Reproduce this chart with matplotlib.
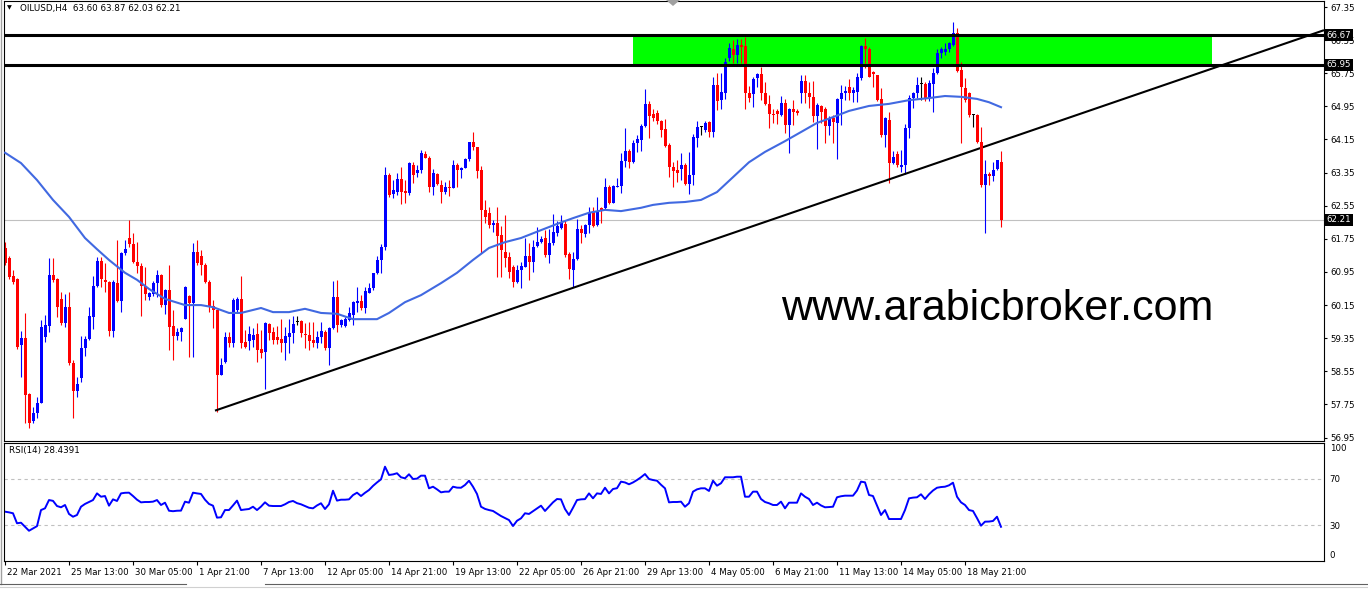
import matplotlib
matplotlib.use("Agg")
import matplotlib.pyplot as plt
import matplotlib.transforms as mtransforms
from matplotlib.patches import Rectangle, Polygon
from matplotlib.lines import Line2D
import numpy as np

# ---- OILUSD H4 candles (open, high, low, close) ----
opens = [61.53, 61.29, 60.85, 60.78, 59.19, 59.36, 58.00, 57.35, 57.55, 57.79,
         59.38, 59.65, 60.88, 60.78, 60.30, 59.72, 60.10, 58.75, 58.07, 58.39,
         59.11, 59.33, 59.86, 60.61, 61.22, 60.76, 60.71, 59.53, 60.68, 60.25,
         61.41, 61.77, 61.62, 61.19, 61.09, 60.61, 60.34, 60.42, 60.68, 60.88,
         60.15, 60.51, 59.65, 59.40, 59.50, 59.81, 60.37, 60.20, 61.43, 61.34,
         61.12, 60.71, 60.13, 60.03, 58.46, 58.77, 59.38, 59.24, 60.03, 60.30,
         59.26, 59.28, 59.31, 59.45, 59.09, 59.02, 59.69, 59.50, 59.38, 59.33,
         59.24, 59.38, 59.48, 59.74, 59.77, 59.45, 59.43, 59.31, 59.24, 59.38,
         59.50, 59.11, 59.60, 60.34, 59.67, 59.65, 59.79, 59.91, 60.20, 60.25,
         60.08, 60.44, 60.56, 60.93, 61.24, 61.55, 63.29, 62.84, 62.88, 63.19,
         62.91, 62.86, 63.53, 63.34, 63.41, 63.80, 63.70, 63.00, 63.31, 63.05,
         62.88, 63.00, 62.98, 63.53, 63.41, 63.46, 63.68, 64.09, 63.97, 63.41,
         62.45, 62.38, 62.09, 62.14, 61.84, 61.43, 61.31, 61.07, 60.71, 61.00,
         61.07, 61.34, 61.19, 61.58, 61.67, 61.77, 61.36, 61.65, 61.89, 62.01,
         62.11, 61.38, 61.00, 61.26, 61.99, 61.87, 62.09, 62.40, 62.09, 62.50,
         62.50, 63.00, 62.62, 63.00, 63.02, 63.63, 63.87, 63.60, 64.06, 64.14,
         64.48, 65.00, 64.77, 64.79, 64.60, 64.40, 64.02, 63.48, 63.41, 63.44,
         63.53, 63.07, 63.29, 64.19, 64.45, 64.38, 64.57, 64.33, 65.47, 65.10,
         65.28, 66.12, 66.34, 66.19, 66.43, 66.41, 65.27, 65.25, 65.64, 65.73,
         65.27, 65.00, 64.77, 64.84, 64.74, 65.03, 64.50, 64.89, 64.84, 65.27,
         65.56, 65.27, 65.18, 64.72, 64.96, 64.89, 64.48, 64.67, 64.55, 65.13,
         65.27, 65.42, 65.27, 65.30, 65.64, 66.41, 66.34, 65.78, 65.71, 65.13,
         64.26, 64.62, 63.58, 63.80, 63.48, 63.53, 64.43, 65.15, 65.27, 65.49,
         65.49, 65.15, 65.49, 65.76, 66.24, 66.26, 66.34, 66.43, 66.72, 65.83,
         65.40, 65.27, 64.74, 64.74, 64.09, 63.05, 63.31, 63.27, 63.44, 63.60]

highs = [61.67, 61.34, 61.00, 60.80, 59.53, 59.96, 58.03, 57.69, 57.93, 59.79,
         59.91, 61.29, 61.29, 60.80, 60.46, 60.41, 60.46, 58.82, 58.41, 59.40,
         59.40, 60.10, 60.85, 61.31, 61.31, 61.17, 60.73, 60.76, 61.72, 61.43,
         61.72, 62.21, 61.89, 61.67, 61.17, 61.07, 60.46, 60.73, 61.00, 60.90,
         60.54, 61.12, 60.03, 59.60, 59.62, 60.61, 60.39, 61.65, 61.72, 61.48,
         61.17, 60.76, 60.27, 60.03, 58.87, 59.50, 59.50, 60.32, 60.34, 60.85,
         59.55, 59.65, 59.60, 59.72, 59.55, 59.74, 59.72, 59.62, 59.65, 59.81,
         59.62, 59.81, 59.89, 59.89, 59.79, 59.72, 59.74, 59.74, 59.53, 59.74,
         59.55, 59.62, 60.73, 60.76, 59.81, 59.86, 60.10, 60.25, 60.59, 60.39,
         60.59, 60.68, 60.93, 61.34, 61.62, 63.48, 63.34, 63.17, 63.34, 63.48,
         63.17, 63.60, 63.60, 63.53, 63.90, 63.87, 63.75, 63.44, 63.34, 63.17,
         63.12, 63.17, 63.65, 63.58, 63.48, 63.70, 64.09, 64.33, 63.97, 63.51,
         62.69, 62.52, 62.21, 62.52, 62.06, 62.33, 61.43, 61.12, 61.12, 61.19,
         61.77, 61.65, 61.72, 62.04, 61.82, 61.96, 61.99, 62.35, 62.18, 62.33,
         62.21, 61.43, 61.43, 62.23, 62.09, 62.11, 62.52, 62.52, 62.76, 62.52,
         63.22, 63.05, 63.05, 63.22, 63.82, 64.43, 63.92, 64.14, 64.26, 64.53,
         65.37, 65.08, 64.89, 64.86, 64.62, 64.64, 64.06, 63.60, 63.65, 63.82,
         63.58, 63.85, 64.28, 64.60, 64.48, 64.60, 64.60, 65.66, 65.76, 65.76,
         66.12, 66.48, 66.55, 66.58, 66.58, 66.63, 65.44, 65.66, 65.76, 65.90,
         65.54, 65.22, 64.89, 64.89, 65.20, 65.13, 64.91, 65.10, 64.89, 65.71,
         65.71, 65.54, 65.56, 65.03, 64.98, 64.93, 64.72, 64.74, 65.15, 65.47,
         65.44, 65.61, 65.42, 65.76, 66.43, 66.60, 66.38, 65.81, 65.71, 65.40,
         64.69, 64.81, 63.87, 63.87, 63.90, 64.53, 65.22, 65.30, 65.66, 65.66,
         65.54, 65.59, 65.88, 66.34, 66.38, 66.48, 66.50, 66.99, 66.84, 66.02,
         65.64, 65.30, 64.77, 64.77, 64.45, 63.65, 63.36, 63.60, 63.65, 63.87]

lows = [61.12, 60.78, 60.66, 59.09, 58.41, 57.30, 57.18, 57.30, 57.42, 57.79,
        59.26, 59.50, 60.71, 59.86, 59.67, 59.62, 58.70, 57.42, 57.93, 58.29,
        58.92, 59.31, 59.57, 60.59, 60.59, 60.46, 59.40, 59.38, 60.22, 59.98,
        61.36, 61.55, 61.17, 60.93, 59.89, 60.27, 60.27, 60.37, 60.34, 60.10,
        59.93, 59.06, 58.82, 59.31, 59.28, 59.81, 58.89, 58.89, 61.12, 60.88,
        60.68, 59.98, 59.60, 57.57, 58.46, 58.75, 59.14, 59.14, 59.96, 59.11,
        59.11, 59.06, 59.14, 58.77, 58.87, 58.12, 59.31, 59.21, 59.21, 59.02,
        58.82, 58.99, 59.24, 59.67, 59.38, 59.11, 59.06, 59.14, 59.11, 59.24,
        59.06, 58.70, 59.57, 59.50, 59.62, 59.62, 59.77, 59.67, 59.98, 60.03,
        59.96, 60.44, 60.51, 60.90, 60.93, 61.48, 62.76, 62.74, 62.81, 62.59,
        62.62, 62.81, 63.10, 63.24, 63.34, 63.70, 62.88, 62.81, 63.05, 62.62,
        62.83, 62.79, 62.98, 63.00, 63.22, 63.46, 63.63, 63.90, 63.22, 61.41,
        62.14, 62.01, 61.92, 60.83, 60.83, 61.07, 60.80, 60.59, 60.68, 60.56,
        61.07, 60.76, 60.95, 61.55, 61.65, 61.31, 61.17, 61.60, 61.82, 61.99,
        61.31, 60.78, 60.59, 61.24, 61.65, 61.79, 61.89, 62.04, 62.06, 62.14,
        62.47, 62.59, 62.62, 63.00, 62.86, 63.48, 63.46, 63.58, 63.85, 63.87,
        64.45, 64.19, 64.60, 64.52, 64.21, 63.97, 63.24, 63.00, 63.12, 63.17,
        63.05, 62.83, 63.05, 63.97, 64.26, 64.33, 64.21, 64.21, 64.86, 64.89,
        65.13, 66.05, 66.00, 66.00, 66.00, 64.89, 65.05, 64.93, 65.42, 65.10,
        64.98, 64.43, 64.55, 64.52, 64.72, 64.31, 63.82, 64.50, 64.74, 65.03,
        65.03, 64.91, 64.57, 63.92, 64.55, 64.07, 64.26, 64.07, 63.68, 64.50,
        65.10, 65.10, 65.05, 65.05, 65.59, 65.88, 65.66, 65.42, 65.08, 64.21,
        63.97, 63.10, 63.56, 63.48, 63.36, 63.31, 64.19, 64.91, 65.15, 65.10,
        65.08, 65.08, 64.81, 65.73, 66.12, 66.19, 66.26, 66.41, 65.78, 64.07,
        65.05, 64.69, 64.45, 64.06, 63.00, 61.89, 63.05, 63.15, 63.42, 62.03]

closes = [61.17, 60.83, 60.71, 59.14, 59.36, 57.98, 57.30, 57.55, 57.79, 59.62,
          59.67, 60.88, 60.76, 60.10, 59.72, 60.10, 58.75, 58.07, 58.24, 59.11,
          59.33, 59.89, 60.61, 61.22, 60.78, 60.71, 59.53, 60.71, 60.25, 61.41,
          61.51, 61.62, 61.19, 61.09, 60.61, 60.42, 60.44, 60.68, 60.88, 60.15,
          60.51, 59.62, 59.40, 59.50, 59.60, 60.59, 60.20, 61.43, 61.17, 61.12,
          60.71, 60.10, 60.03, 58.46, 58.70, 59.38, 59.24, 60.27, 60.30, 59.24,
          59.14, 59.45, 59.43, 59.06, 58.99, 59.72, 59.48, 59.31, 59.31, 59.24,
          59.40, 59.48, 59.69, 59.74, 59.48, 59.43, 59.28, 59.24, 59.38, 59.53,
          59.11, 59.60, 60.34, 59.67, 59.79, 59.81, 59.96, 60.22, 60.25, 60.08,
          60.49, 60.56, 60.93, 61.24, 61.55, 63.29, 62.81, 62.93, 63.19, 62.88,
          62.86, 63.58, 63.29, 63.41, 63.82, 63.70, 63.00, 63.34, 63.07, 62.88,
          63.00, 62.98, 63.53, 63.41, 63.46, 63.68, 64.09, 63.97, 63.39, 62.45,
          62.28, 62.09, 62.14, 61.82, 61.48, 61.29, 60.95, 60.71, 61.00, 61.09,
          61.34, 61.19, 61.55, 61.67, 61.75, 61.36, 61.65, 61.91, 62.06, 62.14,
          61.36, 61.02, 61.26, 61.99, 61.89, 62.09, 62.40, 62.06, 62.43, 62.45,
          63.00, 62.62, 63.02, 63.02, 63.63, 63.87, 63.60, 64.06, 64.16, 64.48,
          65.00, 64.72, 64.67, 64.60, 64.38, 63.99, 63.48, 63.39, 63.34, 63.53,
          63.07, 63.29, 64.21, 64.45, 64.45, 64.55, 64.33, 65.47, 65.08, 65.30,
          66.02, 66.36, 66.19, 66.43, 66.38, 65.27, 65.15, 65.61, 65.73, 65.27,
          65.00, 64.77, 64.74, 64.77, 65.03, 64.50, 64.89, 64.81, 64.79, 65.56,
          65.27, 65.18, 64.72, 64.98, 64.81, 64.48, 64.67, 64.57, 65.13, 65.27,
          65.32, 65.27, 65.35, 65.66, 66.41, 66.34, 65.66, 65.73, 65.10, 64.26,
          64.67, 63.58, 63.73, 63.53, 63.53, 64.43, 65.15, 65.27, 65.47, 65.49,
          65.15, 65.52, 65.76, 66.24, 66.34, 66.34, 66.48, 66.72, 65.81, 65.42,
          65.10, 64.74, 64.74, 64.09, 63.05, 63.31, 63.27, 63.41, 63.65, 62.21]

# moving average, read at a subset of bars
ma_bar = [1, 5, 9, 13, 17, 21, 24, 27, 31, 34,
          37, 41, 46, 50, 53, 57, 60, 65, 68, 72,
          76, 80, 84, 88, 94, 97, 101, 105, 110, 114,
          118, 122, 126, 130, 135, 139, 143, 147, 151, 155,
          160, 163, 167, 171, 175, 179, 183, 187, 191, 196,
          200, 204, 208, 212, 217, 222, 227, 232, 236, 240,
          244, 247, 250]
ma_val = [63.83, 63.58, 63.17, 62.69, 62.28, 61.77, 61.50, 61.24, 60.93, 60.76,
          60.54, 60.30, 60.15, 60.15, 60.10, 59.96, 59.96, 60.08, 59.98, 59.98,
          60.06, 59.96, 59.94, 59.81, 59.81, 59.96, 60.22, 60.39, 60.68, 60.93,
          61.24, 61.53, 61.67, 61.77, 61.96, 62.11, 62.25, 62.38, 62.45, 62.42,
          62.50, 62.57, 62.62, 62.64, 62.69, 62.88, 63.24, 63.60, 63.85, 64.11,
          64.33, 64.55, 64.69, 64.84, 64.96, 65.01, 65.10, 65.15, 65.20, 65.18,
          65.13, 65.05, 64.93]

rsi = [41.6, 41.0, 40.2, 31.5, 32.0, 28.5, 25.0, 27.0, 29.0, 43.0,
       44.5, 51.7, 51.0, 46.5, 45.4, 47.4, 39.6, 37.2, 38.7, 45.9,
       48.3, 50.0, 51.7, 57.5, 54.6, 55.2, 46.8, 52.3, 50.9, 57.5,
       58.0, 58.1, 55.2, 52.0, 49.7, 50.0, 50.0, 50.3, 51.7, 47.4,
       49.4, 42.4, 42.0, 42.4, 42.5, 50.3, 49.4, 58.1, 57.5, 57.0,
       52.0, 48.3, 46.8, 36.4, 36.7, 43.0, 43.0, 47.0, 51.2, 43.0,
       43.5, 43.9, 45.9, 43.0, 46.0, 49.7, 46.8, 46.5, 46.5, 46.5,
       48.0, 50.0, 50.9, 49.0, 48.0, 46.5, 45.0, 44.5, 47.0, 48.9,
       43.9, 48.0, 59.8, 51.2, 52.0, 52.0, 52.3, 56.0, 58.1, 55.2,
       58.0, 60.4, 64.0, 67.0, 69.7, 80.7, 73.5, 74.0, 75.0, 71.5,
       70.6, 74.1, 70.0, 70.3, 72.9, 72.9, 61.9, 63.3, 61.0, 58.4,
       59.0, 59.0, 63.3, 62.5, 62.4, 64.8, 68.5, 63.3, 57.0, 45.9,
       44.0, 43.0, 42.2, 40.0, 37.8, 36.0, 34.3, 29.1, 33.7, 35.8,
       40.2, 39.6, 42.0, 44.5, 46.8, 42.2, 46.0, 49.7, 52.6, 52.3,
       43.9, 38.7, 45.0, 51.7, 52.3, 52.5, 57.5, 53.2, 57.5, 57.0,
       62.4, 57.5, 61.3, 62.0, 67.7, 67.0, 65.4, 67.0, 69.1, 71.5,
       74.3, 70.0, 69.1, 68.5, 65.0, 61.9, 49.7, 50.0, 50.0, 50.3,
       45.9, 48.9, 59.0, 61.0, 61.9, 61.9, 59.6, 68.5, 64.2, 66.3,
       71.5, 71.5, 71.5, 72.0, 72.0, 54.6, 54.6, 59.0, 59.0, 52.6,
       50.0, 48.9, 47.4, 47.4, 50.3, 44.5, 49.4, 49.4, 49.4, 57.5,
       54.6, 52.6, 47.4, 49.4, 47.0, 45.4, 45.6, 45.9, 54.1, 55.0,
       55.5, 55.5, 55.5, 60.0, 67.7, 67.1, 56.1, 55.2, 47.0, 38.7,
       43.0, 35.2, 35.2, 35.2, 35.2, 43.0, 53.2, 53.8, 54.1, 56.7,
       52.6, 56.7, 60.0, 62.4, 63.0, 63.3, 64.5, 66.8, 54.6, 49.7,
       47.4, 43.0, 42.2, 36.0, 29.4, 32.9, 33.0, 33.5, 37.2, 28.44]

zone_low, zone_high = 65.95, 66.67
zone_bars = [158, 302.75]
bid = 62.21
trend_bar = [53.5, 330.75]
trend_val = [57.60, 66.79]

price_ticks = [56.95, 57.75, 58.55, 59.35, 60.15, 60.95, 61.75, 62.55,
               63.35, 64.15, 64.95, 65.75, 66.55, 67.35]
date_bars = [1, 17, 33, 49, 65, 81, 97, 113, 129, 145, 161, 177, 193, 209, 225, 241]
date_labels = ["22 Mar 2021", "25 Mar 13:00", "30 Mar 05:00", "1 Apr 21:00",
               "7 Apr 13:00", "12 Apr 05:00", "14 Apr 21:00", "19 Apr 13:00",
               "22 Apr 05:00", "26 Apr 21:00", "29 Apr 13:00", "4 May 05:00",
               "6 May 21:00", "11 May 13:00", "14 May 05:00", "18 May 21:00"]

# ---- layout ----
W, H = 1368, 596
fig = plt.figure(figsize=(W / 100, H / 100), dpi=100)
fig.patch.set_facecolor("white")
plt.rcParams['font.family'] = ['DejaVu Sans']


def fx(px):
    return px / W


def fy(py):
    return 1 - py / H


ax = fig.add_axes([fx(4), fy(441), fx(1324) - fx(4), fy(1) - fy(441)])
rx = fig.add_axes([fx(4), fy(561), fx(1324) - fx(4), fy(443) - fy(561)], sharex=ax)

o = np.array(opens)
h = np.array(highs)
l = np.array(lows)
c = np.array(closes)
x = np.arange(1, len(c) + 1)
colors = np.where(c > o, "#0000FF", np.where(c < o, "#FF0000", "#000000"))

ax.add_patch(Rectangle((zone_bars[0], zone_low), zone_bars[1] - zone_bars[0],
                       zone_high - zone_low, facecolor="#00FF00", edgecolor="none", zorder=1))
ax.axhline(bid, color="#C0C0C0", lw=0.8, zorder=1.5)
ax.vlines(x, l, h, colors=colors, lw=0.8, zorder=2)
body_bot = np.minimum(o, c)
body_h = np.maximum(np.abs(c - o), 0.025)
ax.bar(x, body_h, bottom=body_bot, width=0.75, color=colors, linewidth=0, zorder=2.5)
ax.plot(ma_bar, ma_val, color="#4169E1", lw=1.5, zorder=3)
ax.plot(trend_bar, trend_val, color="black", lw=1.5, zorder=2.2, solid_capstyle="butt")
ax.axhline(zone_high, color="black", lw=2.2, zorder=4)
ax.axhline(zone_low, color="black", lw=2.2, zorder=4)

ax.text(249, 59.79, "www.arabicbroker.com", fontsize=31, family="Liberation Sans",
        ha="center", va="baseline", color="black", zorder=5)

ax.set_xlim(0.75, 330.75)
ax.set_ylim(56.867, 67.495)
ax.yaxis.tick_right()
ax.set_yticks(price_ticks)
ax.set_yticklabels(["%.2f" % t for t in price_ticks])
ax.tick_params(axis="y", direction="out", length=2.5, width=0.8, pad=2,
               labelsize=6.2, colors="black")
ax.tick_params(axis="x", bottom=False, labelbottom=False)

for val in [zone_high, zone_low, bid]:
    ax.text(1.0018, val, "%.2f" % val, transform=ax.get_yaxis_transform(),
            fontsize=6.2, color="white", ha="left", va="center", zorder=10,
            clip_on=False,
            bbox=dict(boxstyle="square,pad=0.2", facecolor="black", edgecolor="none"))

# ---- RSI panel ----
rx.axhline(70, color="#C0C0C0", lw=0.8, ls=(0, (3, 3)))
rx.axhline(30, color="#C0C0C0", lw=0.8, ls=(0, (3, 3)))
rx.plot(x, rsi, color="#0000FF", lw=1.4)
rx.set_ylim(-1.3, 101.3)
rx.yaxis.tick_right()
rx.set_yticks([0, 30, 70, 100])
rx.set_yticklabels(["0", "30", "70", "100"])
rx.tick_params(axis="y", length=0, pad=4, labelsize=6.2, colors="black")
ylbls = rx.get_yticklabels()
ylbls[0].set_verticalalignment("bottom")
ylbls[3].set_verticalalignment("top")
rx.set_xticks(date_bars)
rx.set_xticklabels(date_labels)
rx.tick_params(axis="x", direction="out", length=3, width=0.8, pad=2,
               labelsize=6.2, colors="black")
shift = mtransforms.ScaledTranslation(2 / 100, 0, fig.dpi_scale_trans)
for lbl in rx.get_xticklabels():
    lbl.set_horizontalalignment("left")
    lbl.set_transform(lbl.get_transform() + shift)

for a in (ax, rx):
    a.set_facecolor("white")
    for s in a.spines.values():
        s.set_color("black")
        s.set_linewidth(0.8)

fig.text(fx(20), fy(8), "OILUSD,H4  63.60 63.87 62.03 62.21", fontsize=6.3,
         va="center", ha="left", color="black")
fig.text(fx(7), fy(8), "\u25bc", fontsize=4.5, va="center", ha="left", color="black")
fig.text(fx(9), fy(451), "RSI(14) 28.4391", fontsize=6.3, va="center", ha="left",
         color="black")

# chart frame decorations
fig.add_artist(Polygon([[fx(666), fy(0)], [fx(680), fy(0)], [fx(673), fy(6)]],
                       closed=True, facecolor="#A0A0A0", edgecolor="none"))
fig.add_artist(Line2D([fx(0.5), fx(0.5)], [fy(0), fy(584)], color="#A0A0A0", lw=1))
fig.add_artist(Line2D([0, fx(186)], [fy(584), fy(584)], color="#606060", lw=0.8))
fig.add_artist(Line2D([fx(265), 1], [fy(584), fy(584)], color="#606060", lw=0.8))
fig.add_artist(Line2D([0, 1], [fy(587), fy(587)], color="#D0D0D0", lw=0.8))

fig.savefig("out.png", dpi=100, facecolor="white")
